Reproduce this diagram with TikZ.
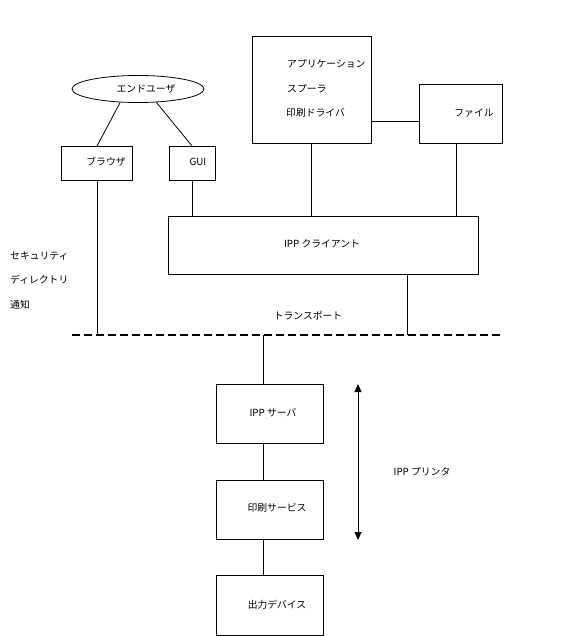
\documentclass[tikz,border=0pt]{standalone}
\usepackage{fontspec}
\setmainfont{Noto Sans CJK JP}
\usetikzlibrary{arrows.meta,shapes.geometric}
\begin{document}
\begin{tikzpicture}[x=1pt,y=-1pt,
  box/.style={draw,line width=0.8pt,inner sep=0pt,anchor=north west},
  lbl/.style={inner sep=0pt,font=\fontsize{9.8}{11}\selectfont},
  conn/.style={line width=0.8pt}]
\useasboundingbox (0,0) rectangle (578,636);
% top
\node[draw,ellipse,line width=0.8pt,minimum width=132pt,minimum height=27pt,inner sep=0pt] (user) at (138,89) {};
\node[lbl] (userT) at (146,89) {エンドユーザ};
\node[box,minimum width=71pt,minimum height=34pt] (brow) at (61,146) {};
\node[lbl] (browT) at (106,162) {ブラウザ};
\node[box,minimum width=46pt,minimum height=34pt] (gui) at (169,146) {};
\node[lbl] (guiT) at (198,162) {GUI};
\node[box,minimum width=119pt,minimum height=107pt] (app) at (252,36) {};
\node[lbl,anchor=west] (appT1) at (287,64) {アプリケーション};
\node[lbl,anchor=west] (appT2) at (287,89) {スプーラ};
\node[lbl,anchor=west] (appT3) at (286,113) {印刷ドライバ};
\node[box,minimum width=83pt,minimum height=59pt] (file) at (419,84) {};
\node[lbl] (fileT) at (474,113) {ファイル};
\node[box,minimum width=310pt,minimum height=58pt] (cli) at (168,216) {};
\node[lbl] (cliT) at (322,244) {IPP クライアント};
% side labels
\node[lbl,anchor=west] (sec) at (10,256) {セキュリティ};
\node[lbl,anchor=west] (dir) at (10,280) {ディレクトリ};
\node[lbl,anchor=west] (ntf) at (10,305) {通知};
\node[lbl] (trans) at (308,316) {トランスポート};
% dashed line
\coordinate (dL) at (72,335);
\coordinate (dR) at (503,335);
\coordinate (dB) at (97,335);
\coordinate (dC) at (407,335);
\coordinate (dS) at (263,335);
\draw[line width=1.8pt,dash pattern=on 8pt off 4pt] (dL) -- (dR);
% bottom
\node[box,minimum width=107pt,minimum height=59pt] (srv) at (216,384) {};
\node[lbl] (srvT) at (273,413) {IPP サーバ};
\node[box,minimum width=107pt,minimum height=59pt] (psv) at (216,480) {};
\node[lbl] (psvT) at (277,508) {印刷サービス};
\node[box,minimum width=107pt,minimum height=60pt] (out) at (216,575) {};
\node[lbl] (outT) at (277,605) {出力デバイス};
\coordinate (aT) at (358,384);
\coordinate (aB) at (358,540);
\draw[conn,{Triangle[length=8pt,width=7pt]}-{Triangle[length=8pt,width=7pt]}] (aT) -- (aB);
\node[lbl] (prn) at (422,472) {IPP プリンタ};
% connectors
\draw[conn] (user.217.5) -- (brow.north -| 97,0);
\draw[conn] (user.324) -- (gui.north -| 192,0);
\draw[conn] (app.east |- 0,121) -- (file.west |- 0,121);
\draw[conn] (brow.south -| dB) -- (dB);
\draw[conn] (gui.south -| 192,0) -- (cli.north -| 192,0);
\draw[conn] (app.south -| 311,0) -- (cli.north -| 311,0);
\draw[conn] (file.south -| 456,0) -- (cli.north -| 456,0);
\draw[conn] (cli.south -| dC) -- (dC);
\draw[conn] (dS) -- (srv.north -| dS);
\draw[conn] (srv.south -| dS) -- (psv.north -| dS);
\draw[conn] (psv.south -| dS) -- (out.north -| dS);
\end{tikzpicture}
\end{document}
